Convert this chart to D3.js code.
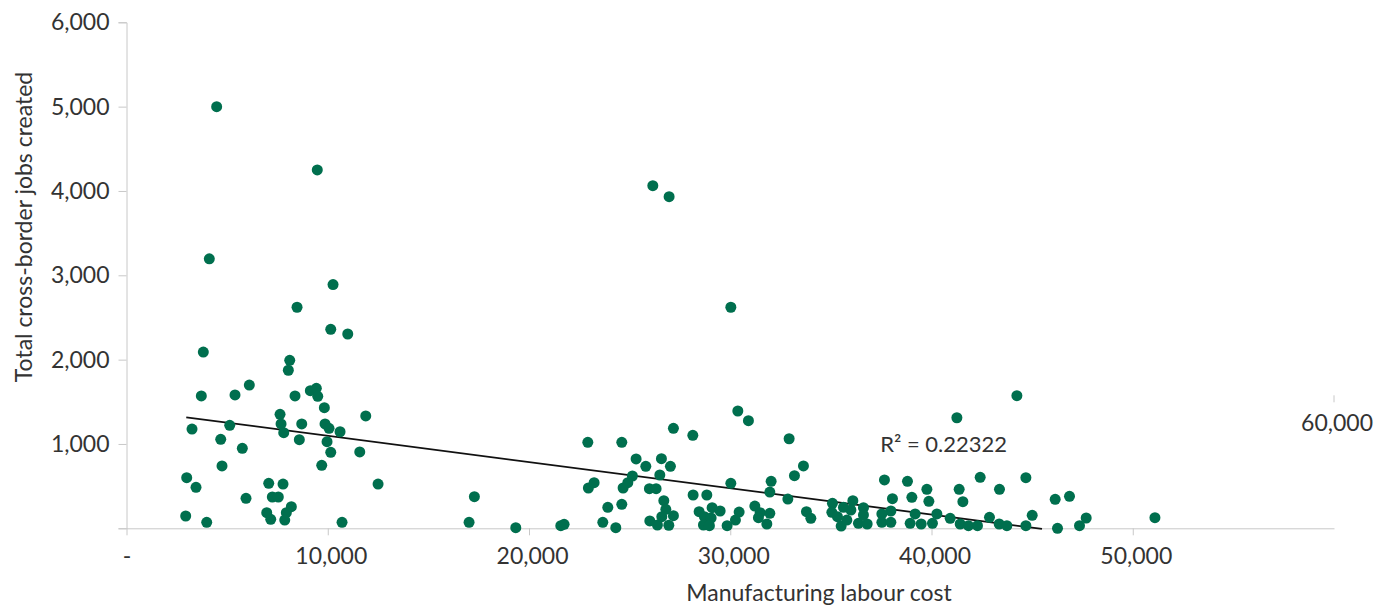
<!DOCTYPE html>
<html>
<head>
<meta charset="utf-8">
<script src="https://cdn.jsdelivr.net/npm/d3@7"></script>
<style>
    html, body { margin: 0; padding: 0; background: #fff; }
    #chart { width: 1376px; height: 607px; }
    text { font-family: Lato, "Open Sans", sans-serif; font-weight: 400; fill: #333; }
</style>
</head>
<body>
<div id="chart"></div>
<script>
// x: manufacturing labour cost, y: total cross-border jobs created
const laborCost = [
    4480, 9480, 4115, 10263, 3817, 3718, 5392, 6103, 3255, 5129,
    4682, 5755, 4746, 2992, 3454, 5939, 2942, 3986, 8474, 10149,
    10994, 8111, 8041, 9135, 9433, 9503, 8374, 9831, 7629, 7679,
    8707, 7813, 8588, 9865, 10064, 10611, 9965, 10149, 9701, 11590,
    11888, 12500, 7067, 7778, 7246, 7544, 8191, 7942, 6968, 7167,
    7863, 10710,
    17022, 17286, 19343, 21580, 21744, 22922, 22951, 23235, 23667, 23916,
    24313, 24611, 24611, 24676, 24910, 25138, 25322, 25804, 25983, 26316,
    26003, 26381, 26580, 26500, 27027, 26699, 26798, 27176, 26599, 26947,
    27176, 28140, 28155, 28453, 28836, 28717, 29099, 29050, 28667, 28965,
    29497, 29845, 30377, 30903, 30029, 30441, 30257, 31222, 31485, 31400,
    31967, 31818, 32032, 31967, 32926, 32862, 33190, 33637, 33786, 34005,
    35078, 35048, 35327, 35511, 35794, 35625, 36092, 35993, 36370, 36619,
    36619, 36803, 37663, 38060, 37981, 37533, 37981, 37533,
    38806, 39770, 39024, 39869, 39188, 40267, 38940, 39487, 40048, 40928,
    41425, 41837, 42285, 42881, 43363, 43746, 44690, 45004, 41261, 44243,
    41375, 41559, 42419, 43378, 44690, 46146, 46857, 46261, 47354, 47687,
    51102, 26152, 26962, 30029
];
const jobsCreated = [
    5000, 4250, 3195, 2890, 2090, 1569, 1581, 1699, 1177, 1221,
    1055, 949, 739, 600, 486, 356, 146, 71, 2621, 2360,
    2304, 1992, 1874, 1632, 1660, 1565, 1569, 1430, 1352, 1237,
    1237, 1134, 1051, 1237, 1186, 1145, 1027, 901, 747, 905,
    1332, 525, 534, 525, 371, 371, 256, 185, 185, 107,
    98, 71,
    71, 375, 7, 31, 47, 1020, 478, 541, 71, 249,
    7, 1020, 285, 478, 541, 620, 822, 735, 470, 470,
    87, 39, 825, 632, 735, 327, 225, 149, 138, 36,
    1186, 1103, 395, 197, 395, 138, 244, 122, 39, 31,
    205, 31, 1391, 1276, 534, 193, 98, 264, 185, 126,
    178, 51, 557, 430, 1062, 347, 624, 739, 197, 119,
    296, 190, 138, 27, 98, 249, 327, 217, 59, 244,
    158, 51, 573, 351, 205, 71, 71, 170,
    557, 462, 368, 320, 170, 170, 59, 51, 59, 119,
    51, 31, 31, 130, 51, 31, 31, 154, 1311, 1572,
    462, 315, 605, 462, 600, 344, 379, 0, 31, 122,
    126, 4063, 3932, 2621
];

// linear trend line end points and its R squared
const trendX = [2970, 45490];
const trendY = [1316, -8];
const rSquared = '0.22322';

// axis ticks
const xTicks = [0, 10000, 20000, 30000, 40000, 50000, 60000];
const yTicks = [0, 1000, 2000, 3000, 4000, 5000, 6000];

function drawChart(container) {
    const width = 1376;
    const height = 607;
    const margin = { top: 22.3, right: 42, bottom: 78.7, left: 126.5 };

    const svg = d3.select(container)
        .append('svg')
        .attr('width', width)
        .attr('height', height);

    const x = d3.scaleLinear()
        .domain([0, 60000])
        .range([margin.left, width - margin.right]);
    const y = d3.scaleLinear()
        .domain([0, 6000])
        .range([height - margin.bottom, margin.top]);

    const fmt = d3.format(',');

    // y axis
    const yAxis = svg.append('g')
        .attr('transform', `translate(${margin.left},0)`)
        .call(d3.axisLeft(y).tickValues(yTicks).tickSize(8).tickPadding(9)
            .tickFormat(d => d === 0 ? '' : fmt(d)));
    yAxis.select('.domain').attr('stroke', '#c8c8c8');
    yAxis.selectAll('.tick line').attr('stroke', '#c8c8c8');
    yAxis.selectAll('.tick text')
        .attr('font-size', 23)
        .attr('fill', '#333')
        .style('font-family', 'Lato, sans-serif');

    // x axis
    const xAxis = svg.append('g')
        .attr('transform', `translate(0,${height - margin.bottom})`)
        .call(d3.axisBottom(x).tickValues(xTicks).tickSize(7).tickSizeOuter(0)
            .tickFormat(d => d === 0 ? '-' : fmt(d)));
    xAxis.select('.domain').attr('stroke', '#c8c8c8');
    xAxis.selectAll('.tick line').attr('stroke', '#c8c8c8');
    xAxis.selectAll('.tick text')
        .attr('font-size', 23)
        .attr('fill', '#333')
        .attr('y', 28)
        .attr('dx', d => d === 0 ? 0 : 3)
        .attr('dy', '0.35em')
        .style('font-family', 'Lato, sans-serif');
    // the last tick sits up in the plot, as in the source
    xAxis.selectAll('.tick')
        .filter(d => d === 60000)
        .attr('transform', `translate(${x(60000)},-133)`);

    // trend line
    svg.append('line')
        .attr('x1', x(trendX[0]))
        .attr('y1', y(trendY[0]))
        .attr('x2', x(trendX[1]))
        .attr('y2', y(trendY[1]))
        .attr('stroke', '#111')
        .attr('stroke-width', 1.8);

    // dots
    svg.append('g')
        .selectAll('circle')
        .data(laborCost)
        .enter()
        .append('circle')
        .attr('cx', d => x(d))
        .attr('cy', (d, i) => y(jobsCreated[i]))
        .attr('r', 5.5)
        .attr('fill', '#006f4e');

    // R squared label
    svg.append('text')
        .attr('x', x(37450))
        .attr('y', y(1000))
        .attr('dy', '0.35em')
        .attr('font-size', 22)
        .text('R² = ' + rSquared);

    // axis titles
    svg.append('text')
        .attr('transform', `translate(24,${227}) rotate(-90)`)
        .attr('text-anchor', 'middle')
        .attr('dy', '0.35em')
        .attr('font-size', 23)
        .text('Total cross-border jobs created');

    svg.append('text')
        .attr('x', 819)
        .attr('y', 601)
        .attr('text-anchor', 'middle')
        .attr('font-size', 23)
        .text('Manufacturing labour cost');
}

drawChart(document.getElementById('chart'));
</script>
</body>
</html>
